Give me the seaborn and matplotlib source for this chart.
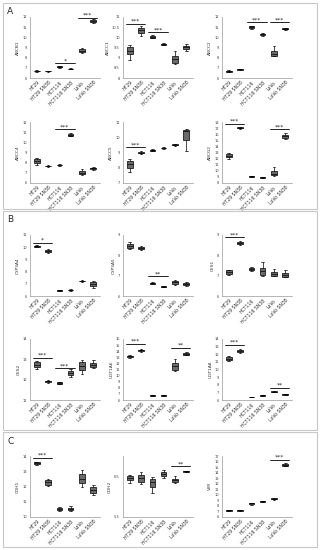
import numpy as np
import pandas as pd
import matplotlib
matplotlib.use("Agg")
import matplotlib.pyplot as plt
from matplotlib.patches import Rectangle
import seaborn as sns

# cell lines on every x axis
lines = ["HT29", "HT29 SN38", "HCT116", "HCT116 SN38", "LoVo", "LoVo SN38"]

# per cell line: [low whisker, q1, median, q3, high whisker]
ABCB1 = [[6.62, 6.65, 6.68, 6.72, 6.75], [6.63, 6.66, 6.68, 6.70, 6.72],
         [7.00, 7.05, 7.10, 7.15, 7.20], [6.85, 6.88, 6.90, 6.92, 6.95],
         [8.50, 8.60, 8.70, 8.85, 9.00], [11.45, 11.55, 11.62, 11.70, 11.80]]
ABCC1 = [[8.90, 9.17, 9.35, 9.50, 9.60], [10.08, 10.20, 10.35, 10.48, 10.55],
         [9.95, 9.98, 10.02, 10.06, 10.10], [9.62, 9.64, 9.66, 9.68, 9.70],
         [8.67, 8.75, 8.95, 9.08, 9.35], [9.35, 9.42, 9.50, 9.55, 9.65]]
ABCC2 = [[6.58, 6.62, 6.67, 6.72, 6.76], [6.76, 6.80, 6.84, 6.88, 6.92],
         [10.85, 10.92, 11.00, 11.08, 11.15], [10.12, 10.20, 10.28, 10.36, 10.45],
         [8.15, 8.20, 8.35, 8.65, 9.10], [10.72, 10.78, 10.85, 10.90, 10.95]]
ABCC4 = [[7.75, 7.95, 8.20, 8.35, 8.50], [7.60, 7.63, 7.67, 7.70, 7.75],
         [7.72, 7.75, 7.78, 7.80, 7.83], [10.58, 10.66, 10.73, 10.80, 10.90],
         [6.80, 6.88, 7.02, 7.15, 7.40], [7.32, 7.38, 7.44, 7.50, 7.55]]
ABCC5 = [[7.70, 8.00, 8.25, 8.45, 8.55], [8.93, 8.97, 9.00, 9.04, 9.08],
         [9.10, 9.13, 9.16, 9.19, 9.22], [9.24, 9.27, 9.30, 9.32, 9.35],
         [9.44, 9.47, 9.50, 9.53, 9.56], [9.10, 9.80, 10.42, 10.50, 10.55]]
ABCG2 = [[11.95, 12.25, 12.50, 12.75, 13.00], [16.90, 16.98, 17.05, 17.12, 17.20],
         [9.02, 9.06, 9.10, 9.13, 9.16], [8.86, 8.90, 8.94, 8.97, 9.00],
         [9.20, 9.30, 9.50, 9.90, 10.60], [15.20, 15.45, 15.65, 15.85, 16.20]]
CYP3A4 = [[9.98, 10.02, 10.06, 10.10, 10.14], [9.50, 9.58, 9.65, 9.75, 9.82],
          [6.42, 6.44, 6.46, 6.48, 6.50], [6.45, 6.47, 6.50, 6.52, 6.54],
          [7.16, 7.19, 7.22, 7.25, 7.28], [6.62, 6.82, 6.97, 7.12, 7.22]]
CYP3A5 = [[8.30, 8.36, 8.45, 8.55, 8.68], [8.25, 8.30, 8.35, 8.40, 8.45],
          [6.57, 6.60, 6.63, 6.66, 6.70], [6.42, 6.44, 6.46, 6.48, 6.50],
          [6.55, 6.60, 6.67, 6.73, 6.78], [6.50, 6.56, 6.60, 6.64, 6.68]]
CES1 = [[7.02, 7.10, 7.18, 7.26, 7.30], [8.52, 8.56, 8.60, 8.65, 8.72],
        [7.22, 7.28, 7.34, 7.40, 7.45], [7.00, 7.02, 7.22, 7.38, 7.68],
        [6.97, 7.00, 7.10, 7.18, 7.32], [6.93, 6.95, 7.05, 7.15, 7.30]]
CES2 = [[12.54, 12.62, 12.74, 12.85, 12.93], [11.86, 11.89, 11.92, 11.95, 11.98],
        [11.78, 11.81, 11.84, 11.87, 11.90], [12.13, 12.22, 12.32, 12.43, 12.52],
        [12.30, 12.50, 12.68, 12.88, 12.98], [12.55, 12.62, 12.72, 12.84, 12.95]]
UGT1A6 = [[12.95, 13.05, 13.15, 13.25, 13.40], [13.95, 14.05, 14.15, 14.25, 14.35],
          [6.70, 6.73, 6.76, 6.79, 6.82], [6.68, 6.71, 6.74, 6.77, 6.80],
          [10.75, 10.95, 11.50, 12.10, 12.80], [13.30, 13.42, 13.55, 13.68, 13.80]]
UGT1A8 = [[11.05, 11.20, 11.40, 11.60, 11.75], [12.15, 12.28, 12.40, 12.52, 12.65],
          [6.33, 6.36, 6.39, 6.42, 6.45], [6.52, 6.56, 6.60, 6.64, 6.68],
          [7.00, 7.05, 7.09, 7.13, 7.18], [6.66, 6.70, 6.74, 6.78, 6.82]]
CDH1 = [[13.40, 13.46, 13.52, 13.58, 13.62], [12.02, 12.12, 12.28, 12.42, 12.48],
        [10.38, 10.45, 10.55, 10.62, 10.68], [10.40, 10.46, 10.55, 10.62, 10.70],
        [12.00, 12.22, 12.50, 12.80, 13.05], [11.45, 11.60, 11.80, 11.98, 12.12]]
CDH2 = [[6.33, 6.40, 6.46, 6.50, 6.54], [6.32, 6.36, 6.45, 6.54, 6.61],
        [6.08, 6.23, 6.36, 6.43, 6.48], [6.47, 6.51, 6.56, 6.61, 6.65],
        [6.33, 6.36, 6.40, 6.44, 6.50], [6.61, 6.615, 6.625, 6.635, 6.64]]
VIM = [[7.10, 7.15, 7.20, 7.25, 7.30], [7.08, 7.13, 7.18, 7.23, 7.30],
       [8.25, 8.38, 8.45, 8.52, 8.58], [8.70, 8.76, 8.82, 8.88, 8.94],
       [9.15, 9.23, 9.30, 9.37, 9.45], [15.15, 15.28, 15.40, 15.52, 15.70]]

# y tick values for each panel
ticks = {
    "ABCB1": np.arange(6, 13, 1), "ABCC1": np.arange(8, 11.01, 0.5),
    "ABCC2": np.arange(6, 13, 1), "ABCC4": np.arange(6, 13, 1),
    "ABCC5": np.arange(7, 12, 1), "ABCG2": np.arange(8, 19, 1),
    "CYP3A4": np.arange(6, 12, 1), "CYP3A5": np.arange(6, 10, 1),
    "CES1": np.arange(6, 10, 1), "CES2": np.arange(11, 15, 1),
    "UGT1A6": np.arange(6, 17, 1), "UGT1A8": np.arange(6, 15, 1),
    "CDH1": np.arange(10, 15, 1), "CDH2": [5.5, 6.5], "VIM": np.arange(6, 18, 1),
}
ylims = {"CDH2": (5.5, 7.0)}

# significance brackets: (first line, second line, stars, height)
sig = {
    "ABCB1": [(2, 3, "*", 7.45), (4, 5, "***", 11.95)],
    "ABCC1": [(0, 1, "***", 10.67), (2, 3, "***", 10.25)],
    "ABCC2": [(2, 3, "***", 11.5), (4, 5, "***", 11.5)],
    "ABCC4": [(2, 3, "***", 11.27)],
    "ABCC5": [(0, 1, "***", 9.33)],
    "ABCG2": [(0, 1, "***", 17.67), (4, 5, "***", 16.8)],
    "CYP3A4": [(0, 1, "*", 10.38)],
    "CYP3A5": [(2, 3, "**", 6.96)],
    "CES1": [(0, 1, "***", 8.89)],
    "CES2": [(0, 1, "***", 13.07), (2, 3, "***", 12.57)],
    "UGT1A6": [(0, 1, "***", 15.24), (4, 5, "**", 14.53)],
    "UGT1A8": [(0, 1, "***", 13.26), (4, 5, "**", 7.6)],
    "CDH1": [(0, 1, "***", 13.9)],
    "CDH2": [(4, 5, "**", 6.75)],
    "VIM": [(4, 5, "***", 16.28)],
}

genes = {"ABCB1": ABCB1, "ABCC1": ABCC1, "ABCC2": ABCC2, "ABCC4": ABCC4,
         "ABCC5": ABCC5, "ABCG2": ABCG2, "CYP3A4": CYP3A4, "CYP3A5": CYP3A5,
         "CES1": CES1, "CES2": CES2, "UGT1A6": UGT1A6, "UGT1A8": UGT1A8,
         "CDH1": CDH1, "CDH2": CDH2, "VIM": VIM}

layout = [["ABCB1", "ABCC1", "ABCC2"], ["ABCC4", "ABCC5", "ABCG2"],
          ["CYP3A4", "CYP3A5", "CES1"], ["CES2", "UGT1A6", "UGT1A8"],
          ["CDH1", "CDH2", "VIM"]]

W, H = 320, 550
sns.set_style("white")
plt.rcParams["font.family"] = ["DejaVu Sans"]
fig = plt.figure(figsize=(W / 100, H / 100), dpi=100)


def px_axes(x0, top, w, h):
    return fig.add_axes([x0 / W, 1 - (top + h) / H, w / W, h / H])


# section frames and letters
for (y0, y1), letter in zip([(3, 209), (211, 430), (432, 547)], "ABC"):
    fig.patches.append(Rectangle((3 / W, 1 - y1 / H), 314 / W, (y1 - y0) / H,
                                 transform=fig.transFigure, fill=False,
                                 edgecolor="#c8c8c8", linewidth=0.8))
    fig.text(7 / W, 1 - (y0 + 9) / H, letter, fontsize=6.5, va="center")

col_x = [30, 123, 222]
row_top = [17, 122, 235, 339, 456]

for r, row in enumerate(layout):
    for c, gene in enumerate(row):
        ax = px_axes(col_x[c], row_top[r], 70, 61)
        vals = genes[gene]
        df = pd.DataFrame({"line": np.repeat(lines, 5),
                           "value": np.ravel(vals)})
        sns.boxplot(data=df, x="line", y="value", order=lines, ax=ax,
                    color="#6a6a6a", width=0.5, whis=(0, 100),
                    linewidth=0.5, linecolor="black", fliersize=0,
                    saturation=1)
        t = ticks[gene]
        ax.set_yticks(t)
        ax.set_ylim(ylims.get(gene, (t[0], t[-1])))
        ax.set_yticklabels([f"{v:g}" for v in t], fontsize=2.6, color="#444444")
        ax.set_xticks(range(len(lines)))
        ax.set_xticklabels(lines, rotation=45, ha="right", fontsize=3.3,
                           rotation_mode="anchor", color="#333333")
        ax.set_xlim(-0.6, 5.6)
        ax.set_xlabel("")
        ax.set_ylabel(gene, fontsize=3.2, labelpad=1.5, color="#333333")
        ax.tick_params(axis="y", length=1.2, width=0.4, pad=1, color="#888888")
        ax.tick_params(axis="x", length=0, pad=1.5)
        for s in ["top", "right"]:
            ax.spines[s].set_visible(False)
        for s in ["left", "bottom"]:
            ax.spines[s].set_linewidth(0.5)
            ax.spines[s].set_color("#999999")
        for i, j, stars, yv in sig[gene]:
            ax.plot([i - 0.35, j + 0.35], [yv, yv], color="black", lw=0.6)
            ax.text((i + j) / 2, yv, stars, ha="center", va="bottom",
                    fontsize=4.5)

fig.savefig("out.png", dpi=100, facecolor="white")
